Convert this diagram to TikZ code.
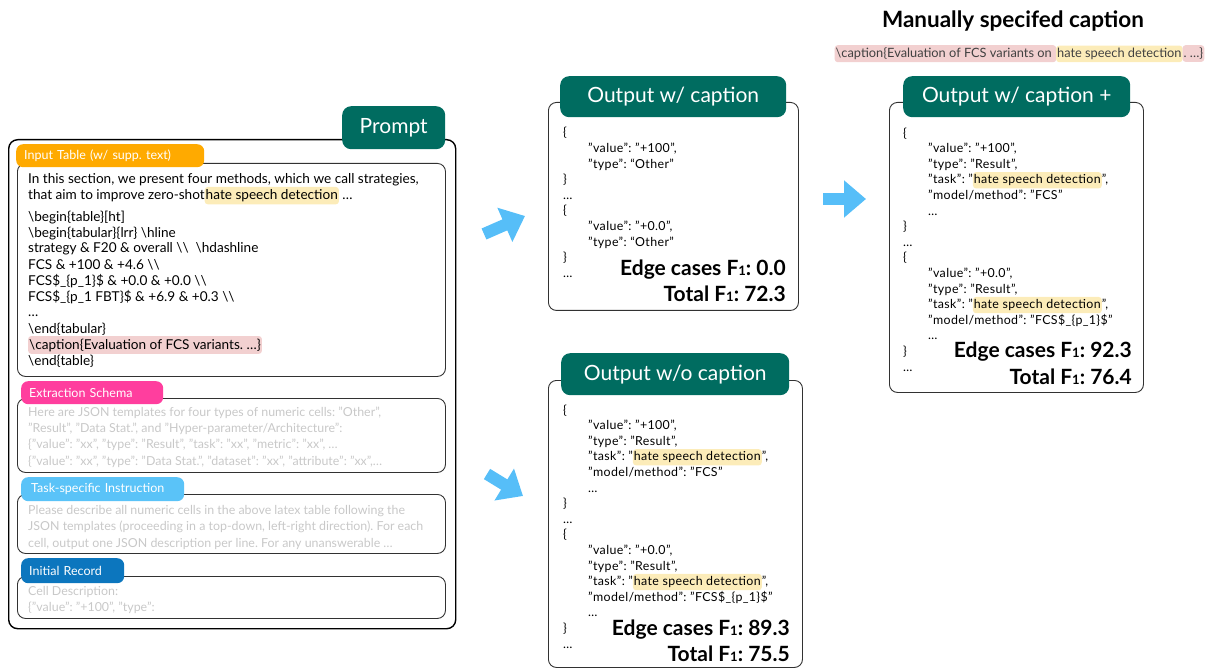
\documentclass[tikz,border=0pt]{standalone}
\usepackage{fontspec}
\setmainfont{Lato}
\usetikzlibrary{arrows.meta}
\frenchspacing

\definecolor{tealbox}{RGB}{0,108,96}
\definecolor{taborange}{RGB}{255,170,0}
\definecolor{tabpink}{RGB}{255,62,158}
\definecolor{tabsky}{RGB}{90,195,248}
\definecolor{tabblue}{RGB}{12,118,190}
\definecolor{flowblue}{RGB}{86,190,248}
\definecolor{hlyellow}{RGB}{252,236,185}
\definecolor{hlpink}{RGB}{242,208,208}
\definecolor{fadegrey}{RGB}{200,200,200}
\definecolor{edgegrey}{RGB}{50,50,50}

\newcommand{\hlt}[2]{\tikz[baseline=(hl.base)]\node[fill=#1,draw=none,rounded corners=3pt,inner xsep=1pt,inner ysep=2.5pt,outer sep=0pt,minimum width=0pt,minimum height=0pt,anchor=base](hl){#2};}
\newcommand{\fone}{F{\fontsize{13}{13}\selectfont 1}}

\tikzset{
  headtab/.style={fill=tealbox, rounded corners=9pt, text=white, font=\fontsize{21}{21}\selectfont, anchor=north west, inner sep=0pt},
  labtab/.style={rounded corners=7pt, text=white, font=\fontsize{12.5}{12.5}\selectfont, anchor=north west, inner sep=0pt, align=left},
  secbox/.style={draw=edgegrey, line width=0.9pt, rounded corners=8pt, anchor=north west, inner sep=0pt},
  bodytext/.style={anchor=base west, inner sep=0pt, align=left},
  jsontext/.style={anchor=base west, inner sep=0pt, align=left, font=\fontsize{12.4}{15.6}\selectfont\addfontfeature{LetterSpace=3}},
  fadetext/.style={anchor=base west, inner sep=0pt, align=left, text=fadegrey, font=\fontsize{12.4}{16.3}\selectfont},
  score/.style={anchor=base east, inner sep=0pt, align=right, font=\fontsize{21}{26}\selectfont\bfseries},
  flow/.style={draw=flowblue, line width=12pt, -{Triangle[length=22pt,width=36pt]}}
}

\begin{document}
\begin{tikzpicture}[x=1pt, y=-1pt]
  \useasboundingbox (0,0) rectangle (1213,668);

  % prompt
  \node[secbox, draw=black, line width=1.4pt, rounded corners=9pt, minimum width=447pt, minimum height=489pt] (promptbox) at (8,139) {};
  \node[headtab, minimum width=103pt, minimum height=43pt] (prompttab) at (342,106) {Prompt};

  % input table (text nodes sit on the baseline of their last line)
  \node[secbox, minimum width=428pt, minimum height=213pt] (inbox) at (17,163) {};
  \node[labtab, fill=taborange, text width=172pt, inner xsep=8pt, minimum height=23pt] (inlab) at (16,144) {Input Table (w/ supp. text)};
  \node[bodytext, font=\fontsize{13.6}{15.5}\selectfont] (inprose) at (28,199.5)
    {In this section, we present four methods, which we call strategies,\\
     that aim to improve zero-shot\hlt{hlyellow}{hate speech detection} …};
  \node[bodytext, font=\fontsize{13.6}{16}\selectfont] (incode) at (28,365)
    {\textbackslash begin\{table\}[ht]\\
     \textbackslash begin\{tabular\}\{lrr\} \textbackslash hline\\
     strategy \& F20 \& overall \textbackslash\textbackslash\ \ \textbackslash hdashline\\
     FCS \& +100 \& +4.6 \textbackslash\textbackslash\\
     FCS\$\_\{p\_1\}\$ \& +0.0 \& +0.0 \textbackslash\textbackslash\\
     FCS\$\_\{p\_1 FBT\}\$ \& +6.9 \& +0.3 \textbackslash\textbackslash\\
     …\\
     \textbackslash end\{tabular\}\\
     \hlt{hlpink}{\textbackslash caption\{Evaluation of FCS variants. …\}}\\
     \textbackslash end\{table\}};

  % extraction schema
  \node[secbox, minimum width=428pt, minimum height=74pt] (exbox) at (17,398) {};
  \node[labtab, fill=tabpink, text width=126pt, inner xsep=8pt, minimum height=23pt] (exlab) at (21,381) {Extraction Schema};
  \node[fadetext] (extext) at (28,465)
    {Here are JSON templates for four types of numeric cells: "Other",\\
     "Result", "Data Stat.", and "Hyper-parameter/Architecture":\\
     \{"value": "xx", "type": "Result", "task": "xx", "metric": "xx", …\\
     \{"value": "xx", "type": "Data Stat.", "dataset": "xx", "attribute": "xx",…};

  % task-specific instruction
  \node[secbox, minimum width=428pt, minimum height=59pt] (tsbox) at (17,494) {};
  \node[labtab, fill=tabsky, text width=143pt, inner xsep=10pt, minimum height=24pt] (tslab) at (21,477) {Task-specific Instruction};
  \node[fadetext, font=\fontsize{12.4}{16.7}\selectfont] (tstext) at (28,547.4)
    {Please describe all numeric cells in the above latex table following the\\
     JSON templates (proceeding in a top-down, left-right direction). For each\\
     cell, output one JSON description per line. For any unanswerable …};

  % initial record
  \node[secbox, minimum width=428pt, minimum height=42pt] (irbox) at (17,576) {};
  \node[labtab, fill=tabblue, text width=87pt, inner xsep=8pt, minimum height=25pt] (irlab) at (21,558) {Initial Record};
  \node[fadetext, font=\fontsize{12.4}{16}\selectfont] (irtext) at (28,611)
    {Cell Description:\\
     \{"value": "+100", "type":};

  % output w/ caption
  \node[secbox, minimum width=250pt, minimum height=208pt] (out1box) at (548,102) {};
  \node[headtab, minimum width=226pt, minimum height=41pt] (out1tab) at (560,76) {Output w/ caption};
  \node[jsontext] (out1json) at (563,277.4)
    {\{\\
     \hspace*{25pt}"value": "+100",\\
     \hspace*{25pt}"type": “Other”\\
     \}\\
     …\\
     \{\\
     \hspace*{25pt}"value": "+0.0",\\
     \hspace*{25pt}"type": “Other”\\
     \}\\
     …};
  \node[score] (out1score) at (786,302) {Edge cases \fone: 0.0\\Total \fone: 72.3};

  % output w/o caption
  \node[secbox, minimum width=254pt, minimum height=287pt] (out2box) at (548,380) {};
  \node[headtab, minimum width=228pt, minimum height=42pt] (out2tab) at (561,353) {Output w/o caption};
  \node[jsontext] (out2json) at (563,648)
    {\{\\
     \hspace*{25pt}"value": "+100",\\
     \hspace*{25pt}"type": "Result",\\
     \hspace*{25pt}"task": "\hlt{hlyellow}{hate speech detection}",\\
     \hspace*{25pt}"model/method": "FCS”\\
     \hspace*{25pt}…\\
     \}\\
     …\\
     \{\\
     \hspace*{25pt}"value": "+0.0",\\
     \hspace*{25pt}"type": "Result",\\
     \hspace*{25pt}"task": "\hlt{hlyellow}{hate speech detection}",\\
     \hspace*{25pt}"model/method": "FCS\$\_\{p\_1\}\$”\\
     \hspace*{25pt}…\\
     \}\\
     …};
  \node[score] (out2score) at (790,661) {Edge cases \fone: 89.3\\Total \fone: 75.5};

  % manually specified caption
  \node[anchor=base, inner sep=0pt, font=\fontsize{22.5}{22.5}\selectfont\bfseries] (mantitle) at (1013,28) {Manually specifed caption};
  \node[anchor=base, inner sep=0pt, font=\fontsize{12.8}{14}\selectfont, text=black!75] (mancap) at (1019.5,57.5)
    {\hlt{hlpink}{\textbackslash caption\{Evaluation of FCS variants on\kern3.5pt}\hlt{hlyellow}{hate speech detection}\hlt{hlpink}{. …\}}};

  % output w/ caption +
  \node[secbox, minimum width=254pt, minimum height=290pt] (out3box) at (889,102) {};
  \node[headtab, minimum width=227pt, minimum height=41pt] (out3tab) at (903,76) {Output w/ caption +};
  \node[jsontext] (out3json) at (903,371)
    {\{\\
     \hspace*{25pt}"value": "+100",\\
     \hspace*{25pt}"type": "Result",\\
     \hspace*{25pt}"task": "\hlt{hlyellow}{hate speech detection}",\\
     \hspace*{25pt}"model/method": "FCS”\\
     \hspace*{25pt}…\\
     \}\\
     …\\
     \{\\
     \hspace*{25pt}"value": "+0.0",\\
     \hspace*{25pt}"type": "Result",\\
     \hspace*{25pt}"task": "\hlt{hlyellow}{hate speech detection}",\\
     \hspace*{25pt}"model/method": "FCS\$\_\{p\_1\}\$”\\
     \hspace*{25pt}…\\
     \}\\
     …};
  \node[score] (out3score) at (1132,384) {Edge cases \fone: 92.3\\Total \fone: 76.4};

  % arrows
  \coordinate (f1s) at (484,234);
  \coordinate (f1e) at (525,216);
  \coordinate (f2s) at (487,474);
  \coordinate (f2e) at (523,496);
  \coordinate (f3s) at (823,199);
  \coordinate (f3e) at (866,199);
  \draw[flow] (f1s) -- (f1e);
  \draw[flow] (f2s) -- (f2e);
  \draw[flow] (f3s) -- (f3e);
\end{tikzpicture}
\end{document}
